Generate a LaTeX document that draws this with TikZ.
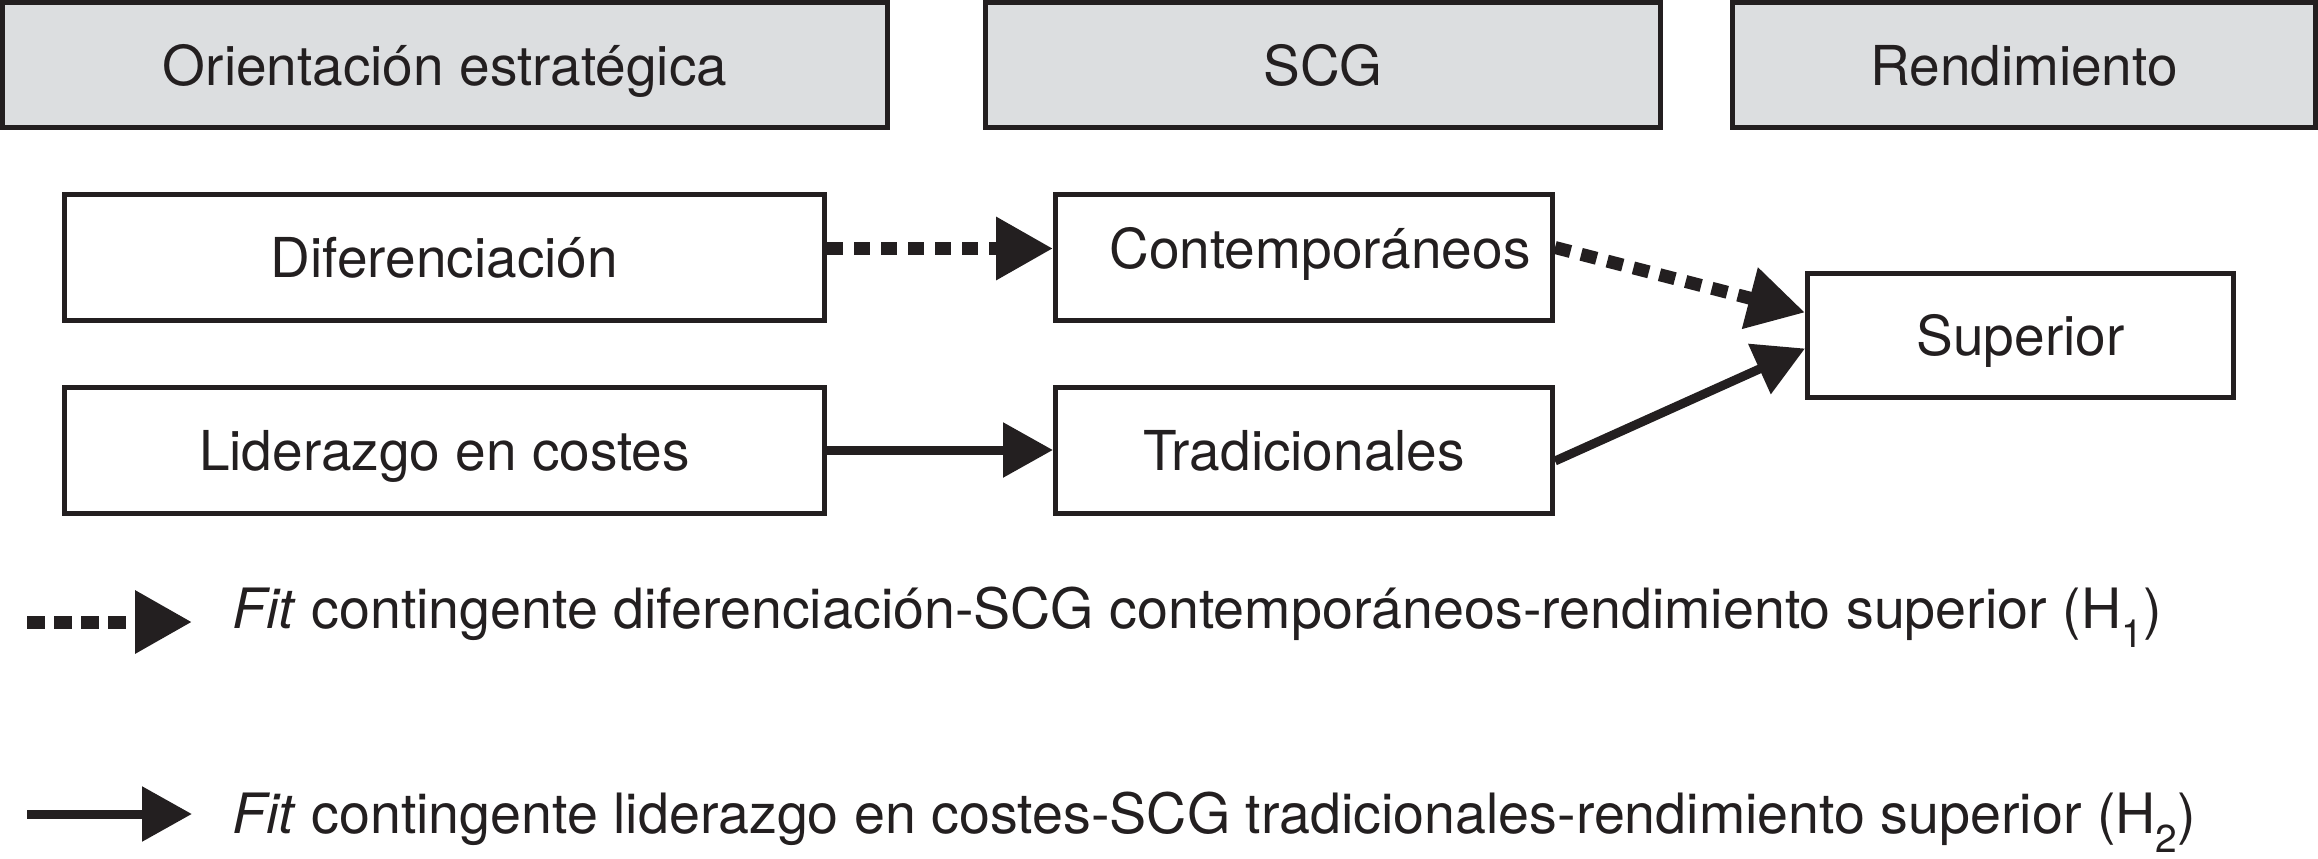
\documentclass[tikz,border=0pt]{standalone}
\usepackage{fontspec}
\setmainfont{TeX Gyre Heros}
\usetikzlibrary{arrows.meta}
\definecolor{ink}{RGB}{35,31,32}
\definecolor{hdr}{RGB}{220,222,224}
\tikzset{
  box/.style={draw=ink, line width=5pt, text=ink, minimum height=126pt, inner sep=0pt,
    font=\fontsize{55}{66}\selectfont, text height=40pt, text depth=0pt},
  hbox/.style={box, fill=hdr, minimum height=125pt},
  dotarrow/.style={draw=ink, line width=13pt, dash pattern=on 16pt off 11pt,
    -{Triangle[length=57pt,width=60pt]}},
  solarrow/.style={draw=ink, line width=9pt, -{Triangle[length=50pt,width=53pt]}},
  legtext/.style={anchor=base west, text=ink, font=\fontsize{55.6}{66}\selectfont, inner sep=0pt}
}
\begin{document}
\begin{tikzpicture}[x=1pt,y=-1pt]
\useasboundingbox (0,0) rectangle (2318,859);
% headers
\node[hbox, minimum width=885pt] (h1) at (445,65) {Orientación estratégica};
\node[hbox, minimum width=675pt] (h2) at (1323,65) {SCG};
\node[hbox, minimum width=583pt] (h3) at (2024,65) {Rendimiento};
% boxes
\node[box, minimum width=760pt] (dif) at (444.5,257.5) {Diferenciación};
\node[box, minimum width=760pt] (lid) at (444.5,450) {Liderazgo en costes};
\node[box, minimum width=497pt, text depth=18pt] (cont) at (1304,257.5) {\hspace*{32pt}Contemporáneos};
\node[box, minimum width=497pt] (trad) at (1304,450) {Tradicionales};
\node[box, minimum width=426pt, minimum height=124pt] (sup) at (2020.5,335.5) {Superior};
% connectors
\draw[dotarrow] ([yshift=9pt]dif.east) -- ([yshift=9pt]cont.west);
\draw[solarrow] (lid.east) -- (trad.west);
\draw[dotarrow] ([yshift=10pt]cont.east) -- ([yshift=23pt]sup.west);
\draw[solarrow] ([yshift=-11pt]trad.east) -- ([yshift=-13pt]sup.west);
% legend
\coordinate (l1a) at (27,622);
\coordinate (l1b) at (192,622);
\coordinate (l2a) at (27,814);
\coordinate (l2b) at (192,814);
\draw[dotarrow, dash pattern=on 18pt off 9pt] (l1a) -- (l1b);
\draw[solarrow] (l2a) -- (l2b);
\node[legtext] (t1) at (232,628) {\textit{Fit} contingente diferenciación-SCG contemporáneos-rendimiento superior (H\textsubscript{1})};
\node[legtext] (t2) at (232,833) {\textit{Fit} contingente liderazgo en costes-SCG tradicionales-rendimiento superior (H\textsubscript{2})};
\end{tikzpicture}
\end{document}
